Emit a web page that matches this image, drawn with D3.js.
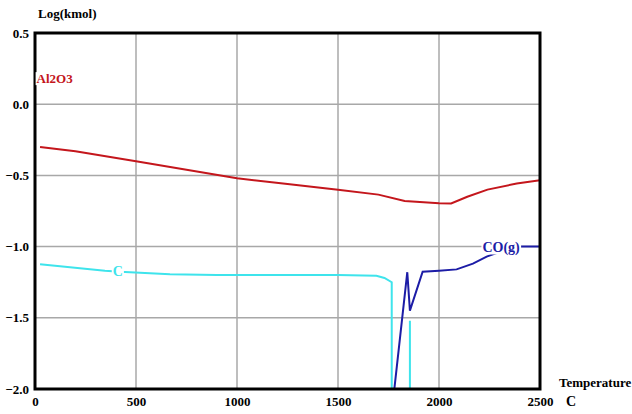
<!DOCTYPE html>
<html>
<head>
<meta charset="utf-8">
<script src="https://cdn.jsdelivr.net/npm/d3@7"></script>
<style>
body { margin: 0; background: #fff; }
</style>
</head>
<body>
<script>
// data
var xTicks = [0, 500, 1000, 1500, 2000, 2500];
var yTicks = [0.5, 0.0, -0.5, -1.0, -1.5, -2.0];

var alTemp = [25, 200, 500, 1000, 1250, 1500, 1700, 1830, 2000, 2060, 2140, 2240, 2385, 2500];
var alLog  = [-0.30, -0.33, -0.40, -0.52, -0.56, -0.60, -0.635, -0.68, -0.695, -0.697, -0.65, -0.60, -0.557, -0.534];

var cTemp = [25, 346, 421, 668, 900, 1500, 1690, 1730, 1766, 1766, 1810, 1856, 1856];
var cLog  = [-1.124, -1.17, -1.177, -1.194, -1.20, -1.20, -1.205, -1.22, -1.25, -2.1, null, -2.1, -1.52];

var coTemp = [1775, 1843, 1856, 1919, 2000, 2087, 2168, 2236, 2285, 2380, 2500];
var coLog  = [-2.05, -1.18, -1.45, -1.177, -1.17, -1.16, -1.12, -1.07, -1.045, -1.0, -1.0];

var serif = '"Liberation Serif", "Times New Roman", Times, serif';

var margin = {top: 33, right: 92, bottom: 25, left: 35},
    width = 632 - margin.left - margin.right,
    height = 414 - margin.top - margin.bottom;

var xScale = d3.scaleLinear().domain([0, 2500]).range([0, width]);
var yScale = d3.scaleLinear().domain([-2.0, 0.5]).range([height, 0]);

var svg = d3.select("body").append("svg")
    .attr("width", 632)
    .attr("height", 414);
var g = svg.append("g")
    .attr("transform", "translate(" + margin.left + "," + margin.top + ")");

g.append("clipPath").attr("id", "plotclip")
  .append("rect").attr("width", width).attr("height", height);

// grid
g.selectAll(".vgrid").data(xTicks.slice(1, -1)).enter().append("line")
    .attr("x1", d => xScale(d)).attr("x2", d => xScale(d))
    .attr("y1", 0).attr("y2", height)
    .attr("stroke", "#a8a8a8").attr("stroke-width", 1.5);
g.selectAll(".hgrid").data(yTicks.slice(1, -1)).enter().append("line")
    .attr("x1", 0).attr("x2", width)
    .attr("y1", d => yScale(d)).attr("y2", d => yScale(d))
    .attr("stroke", "#a8a8a8").attr("stroke-width", 1.5);

// axes, tick labels only
var xAxis = d3.axisBottom(xScale).tickValues(xTicks).tickSize(0).tickPadding(8).tickFormat(d3.format("d"));
var yAxis = d3.axisLeft(yScale).tickValues(yTicks).tickSize(0).tickPadding(6).tickFormat(d3.format(".1f"));
g.append("g").attr("transform", "translate(0," + height + ")").call(xAxis)
  .call(a => a.select(".domain").remove());
g.append("g").call(yAxis)
  .call(a => a.select(".domain").remove());
g.selectAll(".tick text")
  .attr("fill", "#000")
  .style("font-family", serif)
  .style("font-weight", "bold")
  .style("font-size", "13px");

// curves
function makeLine(t, v) {
  return t.map((d, i) => [d, v[i]]);
}
var line = d3.line()
    .defined(d => d[1] !== null)
    .x(d => xScale(d[0]))
    .y(d => yScale(d[1]));

var curves = g.append("g").attr("clip-path", "url(#plotclip)");
curves.append("path").datum(makeLine(alTemp, alLog))
    .attr("d", line).attr("fill", "none").attr("stroke", "#c4161c").attr("stroke-width", 2);
curves.append("path").datum(makeLine(cTemp, cLog))
    .attr("d", line).attr("fill", "none").attr("stroke", "#3ee4ec").attr("stroke-width", 2);
curves.append("path").datum(makeLine(coTemp, coLog))
    .attr("d", line).attr("fill", "none").attr("stroke", "#1c1ca6").attr("stroke-width", 2);

// frame
g.append("rect").attr("width", width).attr("height", height)
    .attr("fill", "none").attr("stroke", "#000").attr("stroke-width", 3);

// curve labels with white background
function label(text, t, v, color, size) {
  var lg = g.append("g");
  var txt = lg.append("text")
      .attr("x", xScale(t)).attr("y", yScale(v))
      .attr("dy", "0.35em")
      .style("font-family", serif)
      .style("font-weight", "bold")
      .style("font-size", size + "px")
      .attr("fill", color)
      .text(text);
  var bb = txt.node().getBBox();
  lg.insert("rect", "text")
      .attr("x", bb.x - 1).attr("y", bb.y + 1)
      .attr("width", bb.width + 2).attr("height", bb.height - 2)
      .attr("fill", "#fff");
}
label("Al2O3", 8, 0.18, "#c4161c", 13);
label("C", 385, -1.17, "#3ee4ec", 14);
label("CO(g)", 2215, -1.0, "#1c1ca6", 14);

// axis titles
function title(text, x, y, size) {
  svg.append("text").attr("x", x).attr("y", y)
    .style("font-family", serif).style("font-weight", "bold")
    .style("font-size", size + "px").text(text);
}
title("Log(kmol)", 38, 18, 13);
title("Temperature", 559, 387, 13);
title("C", 566, 406, 14);
</script>
</body>
</html>
